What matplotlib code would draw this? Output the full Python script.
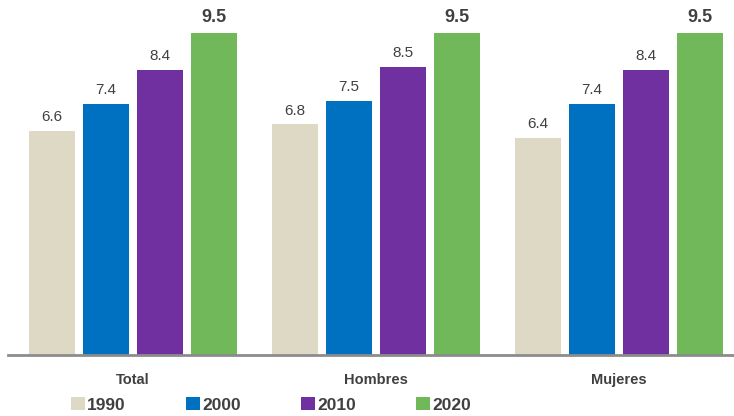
import numpy as np
import matplotlib
matplotlib.use('Agg')
import matplotlib.pyplot as plt

groups = ['Total', 'Hombres', 'Mujeres']
years = ['1990', '2000', '2010', '2020']
v1990 = [6.6, 6.8, 6.4]
v2000 = [7.4, 7.5, 7.4]
v2010 = [8.4, 8.5, 8.4]
v2020 = [9.5, 9.5, 9.5]
colors = ['#ddd9c4', '#0070c0', '#7030a0', '#70b85a']

plt.rcParams['font.family'] = ['Liberation Sans', 'DejaVu Sans']
txt = '#404040'

fig = plt.figure(figsize=(7.34, 4.16), dpi=100)
ax = fig.add_axes([8/734, 61/416, 726/734, 355/416])

x = np.arange(len(groups))
width = 0.189
step = 0.222
series = [v1990, v2000, v2010, v2020]
handles = []
for i, vals in enumerate(series):
    pos = x + (i - 1.5) * step
    b = ax.bar(pos, vals, width, color=colors[i], label=years[i])
    handles.append(b)
    for p, v in zip(pos, vals):
        if i == 3:
            ax.text(p, v + 0.2, f'{v:.1f}', ha='center', va='bottom',
                    fontsize=13, fontweight='bold', color=txt)
        else:
            ax.text(p, v + 0.2, f'{v:.1f}', ha='center', va='bottom',
                    fontsize=11, color=txt)

ax.set_xlim(-0.514, 2.473)
ax.set_ylim(0, 10.47)
ax.set_yticks([])
ax.set_xticks(x)
ax.set_xticklabels(groups, fontsize=10.5, fontweight='bold', color=txt)
ax.tick_params(axis='x', length=0, pad=13)
for s in ['top', 'right', 'left']:
    ax.spines[s].set_visible(False)
ax.spines['bottom'].set_color('#8c8c8c')
ax.spines['bottom'].set_linewidth(2)

leg = fig.legend(handles=handles, labels=years, loc='center',
                 bbox_to_anchor=(271/734, 1 - 405/416), ncol=4, frameon=False,
                 handlelength=0.8, handleheight=0.8, handletextpad=0.15,
                 columnspacing=3.45, borderaxespad=0,
                 prop={'weight': 'bold', 'size': 12.5})
for t in leg.get_texts():
    t.set_color(txt)

fig.savefig('out.png', dpi=100)
